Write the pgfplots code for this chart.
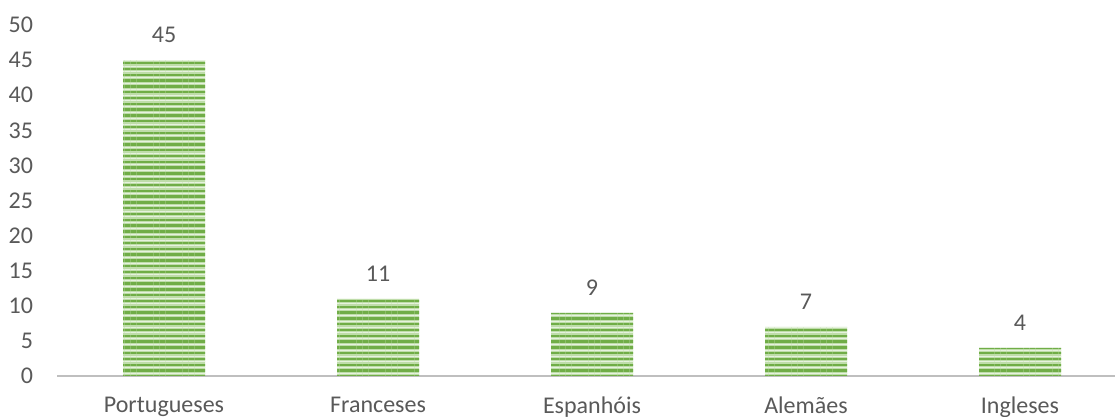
\documentclass[border=0pt]{standalone}
\usepackage{pgfplots}
\pgfplotsset{compat=1.18}
\usepackage{fontspec}
\setmainfont{Carlito}
\usetikzlibrary{patterns.meta}
\definecolor{txt}{HTML}{595959}
\definecolor{stripe}{HTML}{70AD47}
\definecolor{lightg}{HTML}{BFDDAA}
\definecolor{paleg}{HTML}{E6F2DE}
\definecolor{axgray}{HTML}{BFBFBF}
\begin{document}
\begin{tikzpicture}
\begin{axis}[
    scale only axis,
    width=535pt, height=175.5pt,
    xmin=-0.5, xmax=4.5,
    ymin=0, ymax=50,
    ytick={0,5,...,50},
    xtick={0,1,2,3,4},
    xticklabels={Portugueses,Franceses,Espanhóis,Alemães,Ingleses},
    axis x line=bottom, axis y line=left,
    x axis line style={-, draw=axgray, line width=1.4pt},
    y axis line style={draw=none},
    major tick length=0pt,
    font=\fontsize{12pt}{14pt}\selectfont,
    tick label style={text=txt},
    /pgf/number format/assume math mode=true,
    y tick label style={xshift=-8.5pt},
    x tick label style={yshift=-7pt},
    ybar, bar width=41pt, bar shift=0pt,
    nodes near coords,
    every node near coord/.append style={text=txt, yshift=5pt},
]
% bars: light green base, dark green stripes, pale highlight between
\addplot[draw=none, fill=lightg,
    postaction={pattern={Lines[angle=0, distance=2.9pt, line width=1.2pt]}, pattern color=stripe},
    postaction={pattern={Lines[angle=0, distance=2.9pt, line width=0.5pt, yshift=1.45pt]}, pattern color=paleg}]
coordinates {(0,45) (1,11) (2,9) (3,7) (4,4)};
\end{axis}
\pgfresetboundingbox
\path (-28.5pt,-20.5pt) rectangle (529pt,188pt);
\end{tikzpicture}
\end{document}
